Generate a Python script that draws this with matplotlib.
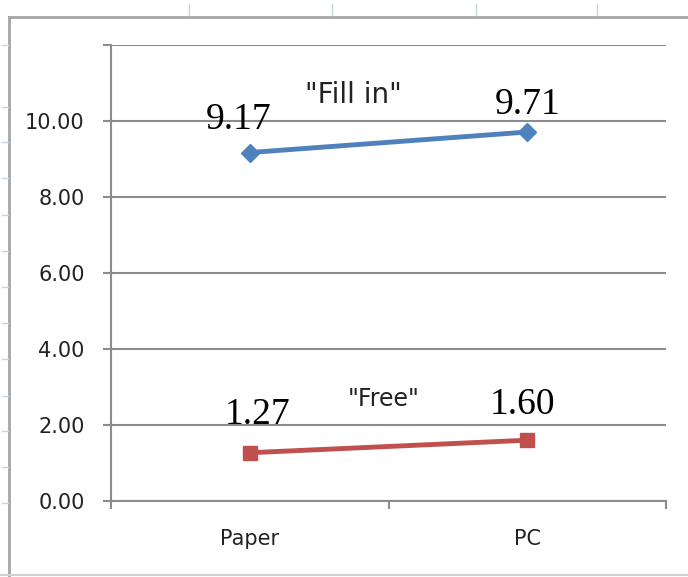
import matplotlib.pyplot as plt
from matplotlib.lines import Line2D

categories = ["Paper", "PC"]
fill_in = [9.17, 9.71]
free = [1.27, 1.60]
y_ticks = [0, 2, 4, 6, 8, 10, 12]
y_labels = ["0.00", "2.00", "4.00", "6.00", "8.00", "10.00", ""]

blue = "#4F81BD"
red = "#C0504D"
grid_col = "#8C8C8C"

fig = plt.figure(figsize=(6.88, 5.77), dpi=100)
ax = fig.add_axes([111 / 688, 1 - 501 / 577, 555 / 688, 456 / 577])

xs = [0.5, 1.5]
ax.plot(xs, fill_in, color=blue, lw=3.5, marker="D", ms=9, zorder=3)
ax.plot(xs, free, color=red, lw=3.5, marker="s", ms=10, zorder=3)

ax.set_xlim(0, 2)
ax.set_ylim(0, 12)
ax.set_yticks(y_ticks)
ax.set_yticklabels(y_labels)
ax.yaxis.grid(True, color=grid_col, lw=1.5)
ax.set_axisbelow(True)

ax.set_xticks([0, 1, 2])
ax.set_xticklabels([])
ax.set_xticks(xs, minor=True)
ax.set_xticklabels(categories, minor=True)
ax.tick_params(axis="x", which="minor", length=0, pad=20)
ax.tick_params(axis="x", which="major", length=6, width=1.5, color=grid_col, direction="out")
ax.tick_params(axis="y", length=6, width=1.5, color=grid_col, pad=13)
for lab in ax.get_yticklabels() + ax.get_xticklabels(minor=True):
    lab.set_fontsize(15)
    lab.set_color("#222222")

for s in ["top", "right"]:
    ax.spines[s].set_visible(False)
for s in ["left", "bottom"]:
    ax.spines[s].set_color(grid_col)
    ax.spines[s].set_linewidth(1.5)

# value labels
serif = dict(family="Liberation Serif", fontsize=27, color="black", ha="center", va="baseline",
             textcoords="offset pixels")
ax.annotate(f"{fill_in[0]:.2f}", (xs[0], fill_in[0]), xytext=(-11, 24), **serif)
ax.annotate(f"{fill_in[1]:.2f}", (xs[1], fill_in[1]), xytext=(0, 18), **serif)
ax.annotate(f"{free[0]:.2f}", (xs[0], free[0]), xytext=(8, 29), **serif)
ax.annotate(f"{free[1]:.2f}", (xs[1], free[1]), xytext=(-5, 26), **serif)

ax.text(0.872, 10.68, '"Fill in"', fontsize=20, ha="center", va="center", color="#222222")
ax.text(0.984, 2.68, '"Free"', fontsize=17, ha="center", va="center", color="#222222")

# surrounding chart frame and sheet gridline stubs
frame = "#A6A6A6"
fig.add_artist(Line2D([9 / 688, 1], [1 - 17 / 577] * 2, color=frame, lw=2))
fig.add_artist(Line2D([9 / 688] * 2, [0, 1 - 17 / 577], color=frame, lw=2))
fig.add_artist(Line2D([0, 1], [1 - 575 / 577] * 2, color="#D0D0D0", lw=1.5))
for x in [189, 332, 476, 597]:
    fig.add_artist(Line2D([x / 688] * 2, [1 - 4 / 577, 1 - 15 / 577], color="#C5D3E8", lw=1))
for y in [45, 107, 142, 178, 215, 251, 287, 323, 359, 396, 431, 467, 503]:
    fig.add_artist(Line2D([2 / 688, 8 / 688], [1 - y / 577] * 2, color="#C5D3E8", lw=1))

fig.savefig("out.png", dpi=100)
